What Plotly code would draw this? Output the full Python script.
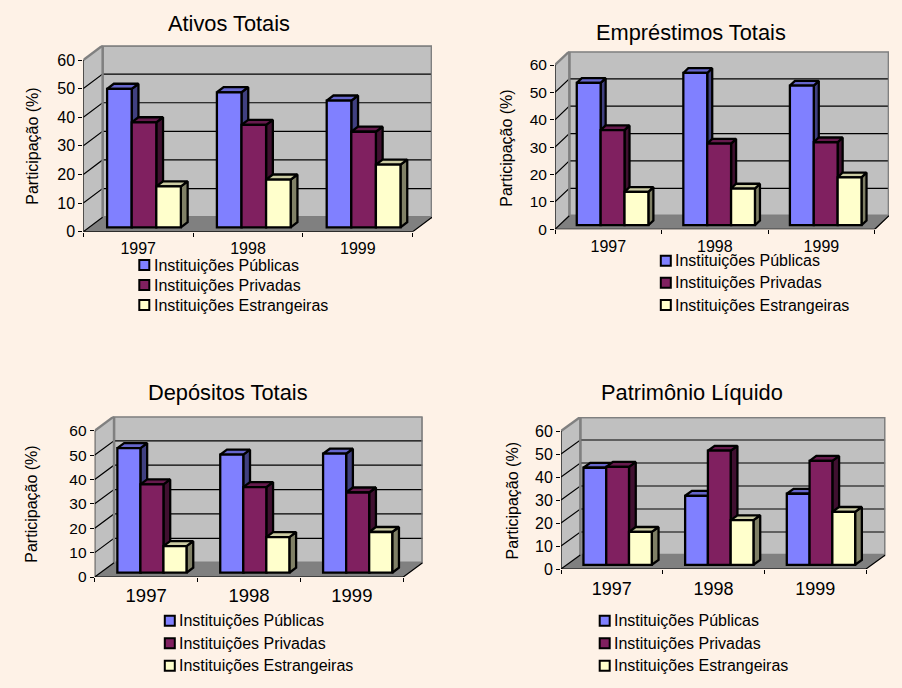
import plotly.graph_objects as go

# Participation by institution type, percent
YEARS = ["1997", "1998", "1999"]
SERIES_NAMES = ["Instituições Públicas", "Instituições Privadas", "Instituições Estrangeiras"]

ATIVOS_PUBLICAS = [48.4, 47.2, 44.3]
ATIVOS_PRIVADAS = [36.7, 35.8, 33.4]
ATIVOS_ESTRANGEIRAS = [14.3, 16.7, 21.9]

EMPRESTIMOS_PUBLICAS = [52.0, 55.6, 51.0]
EMPRESTIMOS_PRIVADAS = [34.7, 29.8, 30.3]
EMPRESTIMOS_ESTRANGEIRAS = [12.2, 13.4, 17.5]

DEPOSITOS_PUBLICAS = [51.1, 48.4, 48.8]
DEPOSITOS_PRIVADAS = [36.2, 35.1, 32.9]
DEPOSITOS_ESTRANGEIRAS = [10.9, 14.6, 16.7]

PATRIMONIO_PUBLICAS = [42.2, 30.0, 30.9]
PATRIMONIO_PRIVADAS = [42.6, 49.6, 45.2]
PATRIMONIO_ESTRANGEIRAS = [14.3, 19.4, 23.0]

W, H = 902, 688
FONT = "Liberation Sans"
BG = "#FEF2E7"
WALL = "#C0C0C0"
FLOOR = "#808080"
FRONT = ["#8080FF", "#802060", "#FFFFCC"]
SIDE = ["#404080", "#401030", "#808066"]
TOP = ["#6666CC", "#661A4D", "#CCCCA3"]

BAR_W = 0.224        # share of a category
BAR_SHIFT = 0.30     # bar front plane, share of the chart depth
BAR_DEPTH = 0.35     # bar depth, share of the chart depth
BAR_LINE = 2.3
TICKS = [0, 10, 20, 30, 40, 50, 60]

# Pixel frame of each chart: front-left x, front-right x, y of 0, y of 60, depth x/y
PANELS = [
    dict(title="Ativos Totais", values=[ATIVOS_PUBLICAS, ATIVOS_PRIVADAS, ATIVOS_ESTRANGEIRAS],
         fl=83.3, fr=412.7, y0=231.7, y60=60.0, dx=19.3, dy=14.5,
         title_xy=(229, 24), ytitle_xy=(33, 146.7), tick_font=16, cat_font=16, cat_standoff=2,
         swatch_x=144.3, text_x=154, rows=(265, 285, 305)),
    dict(title="Empréstimos Totais", values=[EMPRESTIMOS_PUBLICAS, EMPRESTIMOS_PRIVADAS, EMPRESTIMOS_ESTRANGEIRAS],
         fl=555.0, fr=874.7, y0=229.3, y60=65.0, dx=14.3, dy=13.6,
         title_xy=(691, 32.7), ytitle_xy=(507, 148.7), tick_font=15.5, cat_font=16, cat_standoff=2,
         swatch_x=665.8, text_x=675, rows=(260.7, 282.7, 305)),
    dict(title="Depósitos Totais", values=[DEPOSITOS_PUBLICAS, DEPOSITOS_PRIVADAS, DEPOSITOS_ESTRANGEIRAS],
         fl=94.7, fr=403.3, y0=577.0, y60=430.7, dx=19.3, dy=14.3,
         title_xy=(228, 392.7), ytitle_xy=(30.7, 504), tick_font=15.5, cat_font=18.5, cat_standoff=2,
         swatch_x=169.8, text_x=179.3, rows=(620.7, 643.3, 665.7)),
    dict(title="Patrimônio Líquido", values=[PATRIMONIO_PUBLICAS, PATRIMONIO_PRIVADAS, PATRIMONIO_ESTRANGEIRAS],
         fl=561.0, fr=866.0, y0=569.0, y60=431.0, dx=19.3, dy=14.0,
         title_xy=(692, 392.7), ytitle_xy=(512.7, 500.7), tick_font=16, cat_font=18, cat_standoff=3,
         swatch_x=604.7, text_x=614, rows=(620.7, 643.3, 665.7)),
]


def px(x):
    return x / W


def py(y):
    return 1 - y / H


fig = go.Figure()
annotations = []
shapes = []


def segs(xa, ya, points, color, width, fill=None, zorder=0, name=""):
    """Add one line or filled polygon trace in axis units."""
    xs = [p[0] if p else None for p in points]
    ys = [p[1] if p else None for p in points]
    fig.add_trace(go.Scatter(
        x=xs, y=ys, xaxis=xa, yaxis=ya, mode="lines", name=name,
        line=dict(color=color, width=width), fill="toself" if fill else "none",
        fillcolor=fill, hoverinfo="skip", showlegend=False, cliponaxis=False, zorder=zorder,
    ))


for n, p in enumerate(PANELS, start=1):
    xa = f"x{n}"
    ya = f"y{n}"
    cat_px = (p["fr"] - p["fl"]) / len(YEARS)
    val_px = (p["y0"] - p["y60"]) / 60
    dx = p["dx"] / cat_px
    dy = p["dy"] / val_px
    nx = len(YEARS)

    # Walls and floor
    segs(xa, ya, [(dx, dy), (nx + dx, dy), (nx + dx, 60 + dy), (dx, 60 + dy), (dx, dy)],
         FLOOR, 2.4, fill=WALL, name="parede")
    segs(xa, ya, [(0, 0), (dx, dy), (dx, 60 + dy), (0, 60), (0, 0)], FLOOR, 0.1, fill=WALL, name="lateral")
    segs(xa, ya, [(0, 0), (nx, 0), (nx + dx, dy), (dx, dy), (0, 0)], FLOOR, 0.1, fill=FLOOR, name="piso")

    # Gridlines running over the side wall and along the back wall
    grid = []
    for t in TICKS[1:-1]:
        grid += [(0, t), (dx, t + dy), (nx + dx, t + dy), None]
    segs(xa, ya, grid, "#000000", 1.2, name="grade")
    segs(xa, ya, [(dx, dy), (dx, 60 + dy), (nx + dx, 60 + dy), (nx + dx, dy), None, (0, 60), (dx, 60 + dy)],
         FLOOR, 2.4, name="borda")
    segs(xa, ya, [(0, 60), (0, 0), (nx, 0), (nx + dx, dy), None, (0, 0), (dx, dy)],
         "#000000", 1.2, name="eixos")

    base = BAR_SHIFT * dy
    shift = BAR_SHIFT * dx
    bar_dx = BAR_DEPTH * dx
    bar_dy = BAR_DEPTH * dy
    for s, values in enumerate(p["values"]):
        centers = [i + 0.5 + shift + (s - 1) * BAR_W for i in range(nx)]
        side, top = [], []
        for c, v in zip(centers, values):
            l, r = c - BAR_W / 2, c + BAR_W / 2
            side += [(r, base), (r + bar_dx, base + bar_dy), (r + bar_dx, base + bar_dy + v), (r, base + v), (r, base), None]
            top += [(l, base + v), (l + bar_dx, base + bar_dy + v), (r + bar_dx, base + bar_dy + v), (r, base + v), (l, base + v), None]
        segs(xa, ya, side, "#000000", BAR_LINE, fill=SIDE[s], zorder=2 * s + 1, name=SERIES_NAMES[s])
        segs(xa, ya, top, "#000000", BAR_LINE, fill=TOP[s], zorder=2 * s + 1, name=SERIES_NAMES[s])
        fig.add_trace(go.Bar(
            x=centers, y=values, base=base, width=BAR_W, xaxis=xa, yaxis=ya,
            name=SERIES_NAMES[s], customdata=YEARS, showlegend=False,
            hovertemplate="%{customdata}: %{y}%<extra>" + SERIES_NAMES[s] + "</extra>",
            marker=dict(color=FRONT[s], line=dict(color="#000000", width=BAR_LINE)),
            zorder=2 * s + 2,
        ))

    suffix = "" if n == 1 else str(n)
    fig.layout["xaxis" + suffix] = dict(
        domain=[px(p["fl"]), px(p["fr"] + p["dx"])], range=[0, nx + dx], anchor=ya,
        showgrid=False, zeroline=False, showline=False,
        tickmode="array", tickvals=[i + 0.5 for i in range(nx)], ticktext=YEARS,
        ticks="outside", ticklen=p["cat_standoff"], tickcolor="rgba(0,0,0,0)", fixedrange=True,
        tickfont=dict(family=FONT, size=p["cat_font"], color="#000000"),
        minor=dict(tickmode="array", tickvals=list(range(nx + 1)), ticks="outside",
                   ticklen=4, tickcolor="#000000", tickwidth=1),
    )
    fig.layout["yaxis" + suffix] = dict(
        domain=[py(p["y0"]), py(p["y60"] - p["dy"])], range=[0, 60 + dy], anchor=xa,
        showgrid=False, zeroline=False, showline=False,
        tickmode="array", tickvals=TICKS, ticks="outside", ticklen=4, tickcolor="#000000",
        tickwidth=1, fixedrange=True,
        tickfont=dict(family=FONT, size=p["tick_font"], color="#000000"),
    )

    # Chart title and value-axis title
    annotations.append(dict(text=p["title"], x=px(p["title_xy"][0]), y=py(p["title_xy"][1]),
                            xref="paper", yref="paper", showarrow=False, xanchor="center", yanchor="middle",
                            font=dict(family=FONT, size=21.8, color="#000000")))
    annotations.append(dict(text="Participação (%)", x=px(p["ytitle_xy"][0]), y=py(p["ytitle_xy"][1]),
                            xref="paper", yref="paper", showarrow=False, textangle=-90,
                            xanchor="center", yanchor="middle",
                            font=dict(family=FONT, size=16, color="#000000")))

    # Key: swatch and label per series
    for s, row in enumerate(p["rows"]):
        half = 5
        shapes.append(dict(type="rect", xref="paper", yref="paper",
                           x0=px(p["swatch_x"] - half), x1=px(p["swatch_x"] + half),
                           y0=py(row + half), y1=py(row - half),
                           fillcolor=FRONT[s], line=dict(color="#000000", width=2)))
        annotations.append(dict(text=SERIES_NAMES[s], x=px(p["text_x"]), y=py(row),
                                xref="paper", yref="paper", showarrow=False,
                                xanchor="left", yanchor="middle", borderpad=0, borderwidth=0,
                                font=dict(family=FONT, size=16, color="#000000")))

fig.update_layout(
    width=W, height=H, margin=dict(l=0, r=0, t=0, b=0, autoexpand=False), autosize=False,
    paper_bgcolor=BG, plot_bgcolor="rgba(0,0,0,0)", barmode="overlay",
    showlegend=False, annotations=annotations, shapes=shapes,
    font=dict(family=FONT),
)

fig.write_html("out.html", config=dict(displayModeBar=False))
